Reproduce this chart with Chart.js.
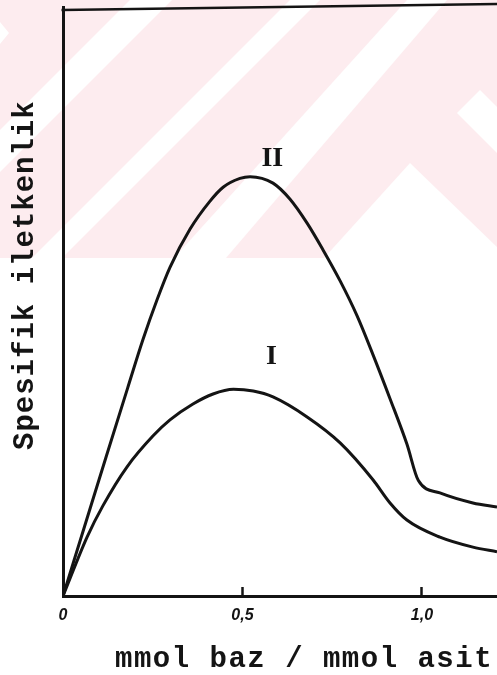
<!DOCTYPE html>
<html>
<head>
<meta charset="utf-8">
<script src="https://cdn.jsdelivr.net/npm/chart.js@4/dist/chart.umd.min.js"></script>
<style>
  html, body { margin: 0; padding: 0; background: #fff; }
  canvas { display: block; }
</style>
</head>
<body>
<canvas id="c" width="497" height="675"></canvas>
<script>
// ---- data ----
const xTickValues = [0, 0.5, 1.0];
const xTickLabels = ['0', '0,5', '1,0'];
const xTitle = 'mmol baz / mmol asit';
const yTitle = 'Spesifik iletkenlik';

const seriesNames = ['I', 'II'];
const xI  = [0, 0.067, 0.111, 0.178, 0.251, 0.298, 0.362, 0.418, 0.475, 0.530, 0.585, 0.680, 0.772, 0.864, 0.911, 0.958, 1.050, 1.142, 1.209];
const yI  = [0, 10.0, 15.3, 21.9, 27.2, 29.9, 32.6, 34.3, 35.1, 34.8, 33.8, 30.4, 26.0, 19.7, 15.8, 12.9, 10.0, 8.3, 7.5];
const xII = [0, 0.060, 0.120, 0.180, 0.223, 0.262, 0.298, 0.354, 0.409, 0.446, 0.493, 0.521, 0.585, 0.632, 0.680, 0.724, 0.772, 0.819, 0.864, 0.911, 0.958, 0.990, 1.050, 1.142, 1.209];
const yII = [0, 11.8, 23.6, 35.3, 43.6, 50.3, 55.8, 62.3, 67.0, 69.4, 70.9, 71.2, 70.1, 67.4, 63.3, 58.8, 53.5, 47.6, 40.9, 33.5, 25.8, 19.6, 17.5, 15.8, 15.1];

// curve label anchors in data units
const curveLabelText = ['II', 'I'];
const curveLabelX = [0.583, 0.581];
const curveLabelY = [74.3, 40.6];

const INK = '#141414';

const toPts = (xs, ys) => xs.map((x, i) => ({ x: x, y: ys[i] }));

const bgPlugin = {
  id: 'bg',
  beforeDraw(chart) {
    const ctx = chart.ctx;
    ctx.save();
    ctx.fillStyle = '#ffffff';
    ctx.fillRect(0, 0, chart.width, chart.height);
    ctx.beginPath();
    ctx.rect(0, 0, chart.width, 258);
    ctx.clip();
    ctx.fillStyle = '#fdecef';
    ctx.fillRect(0, 0, chart.width, 258);
    ctx.fillStyle = '#ffffff';
    const poly = pts => {
      ctx.beginPath();
      pts.forEach(([x, y], i) => i ? ctx.lineTo(x, y) : ctx.moveTo(x, y));
      ctx.closePath();
      ctx.fill();
    };
    poly([[0, 22], [9, 33], [0, 44]]);
    poly([[130, 0], [172, 0], [0, 172], [0, 130]]);
    poly([[290, 0], [320, 0], [62, 258], [32, 258]]);
    poly([[407, 0], [447, 0], [226, 258], [174, 258]]);
    poly([[457, 113], [480, 90], [497, 107], [497, 153]]);
    poly([[410, 163], [497, 247], [497, 258], [324, 258]]);
    ctx.restore();
  }
};

const decorPlugin = {
  id: 'decor',
  afterDatasetsDraw(chart) {
    const ctx = chart.ctx;
    const xs = chart.scales.x, ys = chart.scales.y;
    ctx.save();
    ctx.fillStyle = INK;
    ctx.font = 'bold 28px "Liberation Serif"';
    ctx.textAlign = 'center';
    ctx.textBaseline = 'middle';
    curveLabelText.forEach((t, i) => {
      ctx.fillText(t, xs.getPixelForValue(curveLabelX[i]), ys.getPixelForValue(curveLabelY[i]));
    });
    ctx.restore();
  },
  afterDraw(chart) {
    const ctx = chart.ctx;
    const a = chart.chartArea;
    ctx.save();
    // top frame line (slightly tilted as in the scan)
    ctx.strokeStyle = INK;
    ctx.lineWidth = 2.5;
    ctx.beginPath();
    ctx.moveTo(a.left - 1.5, a.top + 3);
    ctx.lineTo(a.right, a.top - 3);
    ctx.stroke();
    // axis titles
    ctx.fillStyle = INK;
    ctx.font = 'bold 29px "Liberation Mono"';
    ctx.letterSpacing = '1.5px';
    ctx.textAlign = 'left';
    ctx.textBaseline = 'alphabetic';
    ctx.fillText(xTitle, 115, 667);
    ctx.letterSpacing = '1px';
    ctx.translate(33, 450);
    ctx.rotate(-Math.PI / 2);
    ctx.fillText(yTitle, 0, 0);
    ctx.restore();
  }
};

new Chart(document.getElementById('c'), {
  type: 'scatter',
  data: {
    datasets: [
      { label: seriesNames[0], data: toPts(xI, yI) },
      { label: seriesNames[1], data: toPts(xII, yII) }
    ].map(d => Object.assign(d, {
      showLine: true,
      borderColor: INK,
      borderWidth: 3,
      pointRadius: 0,
      cubicInterpolationMode: 'monotone',
      fill: false
    }))
  },
  options: {
    responsive: false,
    devicePixelRatio: 1,
    animation: false,
    events: [],
    layout: { padding: { top: 7, left: 0, right: 0, bottom: 0 } },
    plugins: { legend: { display: false }, tooltip: { enabled: false } },
    scales: {
      x: {
        type: 'linear',
        min: 0,
        max: 1.209,
        afterBuildTicks: s => { s.ticks = xTickValues.map(v => ({ value: v })); },
        afterFit: s => { s.height = 79; },
        ticks: {
          autoSkip: false,
          maxRotation: 0,
          padding: 19,
          color: INK,
          font: { family: '"Liberation Sans"', size: 16, style: 'italic', weight: 'bold' },
          callback: v => { const i = xTickValues.indexOf(v); return i >= 0 ? xTickLabels[i] : ''; }
        },
        grid: { display: true, drawOnChartArea: false, drawTicks: true, tickLength: -9, tickWidth: 2.5, color: INK },
        border: { display: true, color: INK, width: 3 }
      },
      y: {
        type: 'linear',
        min: 0,
        max: 100,
        afterFit: s => { s.width = 63; },
        ticks: { display: false },
        grid: { display: false, drawTicks: false },
        border: { display: true, color: INK, width: 3 }
      }
    }
  },
  plugins: [bgPlugin, decorPlugin]
});
</script>
</body>
</html>
